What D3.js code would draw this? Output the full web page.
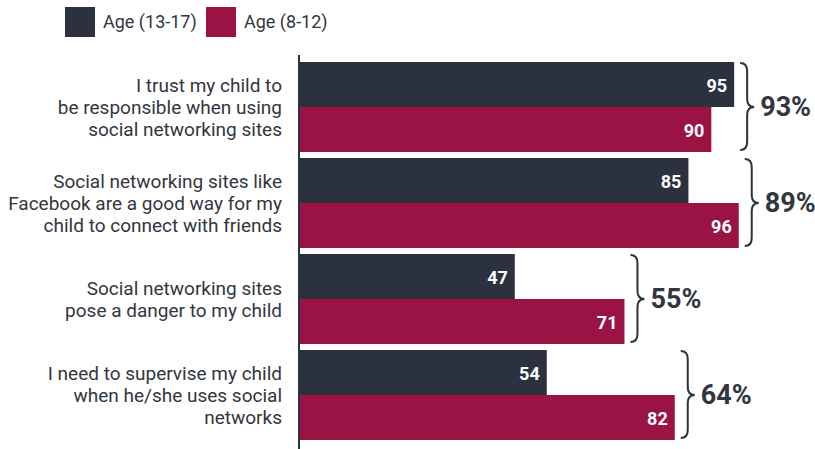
<!DOCTYPE html>
<html>
<head>
<meta charset="utf-8">
<script src="https://cdn.jsdelivr.net/npm/d3@7"></script>
<style>
  html, body { margin: 0; padding: 0; background: #ffffff; }
  svg { display: block; }
  text { font-family: Roboto, "Open Sans", sans-serif; }
</style>
</head>
<body>
<svg id="chart" width="815" height="449"></svg>
<script>
// Survey statements (each drawn on up to three lines)
const categories = [
  ["I trust my child to", "be responsible when using", "social networking sites"],
  ["Social networking sites like", "Facebook are a good way for my", "child to connect with friends"],
  ["Social networking sites", "pose a danger to my child"],
  ["I need to supervise my child", "when he/she uses social", "networks"]
];
const seriesNames = ["Age (13-17)", "Age (8-12)"];
const teens = [95, 85, 47, 54];
const kids = [90, 96, 71, 82];
const totals = ["93%", "89%", "55%", "64%"];

const colors = ["#2c3140", "#9b1244"];
const textColor = "#333640";

const svg = d3.select("#chart");
const keys = categories.map((c, i) => "c" + i);

const x = d3.scaleLinear().domain([0, 100]).range([300, 757]);
const y = d3.scaleBand().domain(keys).range([59, 443])
  .paddingInner(0.0625).paddingOuter(0.03125);
const ySub = d3.scaleBand().domain(seriesNames).range([0, y.bandwidth()]).padding(0);

const rows = keys.map((k, i) => ({ key: k, lines: categories[i], values: [teens[i], kids[i]], total: totals[i] }));

// Legend
const legend = svg.append("g").attr("class", "legend");
const legendX = [65, 206];
seriesNames.forEach((name, i) => {
  legend.append("rect").attr("x", legendX[i]).attr("y", 7).attr("width", 30).attr("height", 30).attr("fill", colors[i]);
  legend.append("text").attr("x", legendX[i] + 38).attr("y", 22).attr("dy", "0.35em")
    .attr("font-size", 18).attr("fill", textColor).text(name);
});

// Groups of bars
const groups = svg.selectAll("g.row").data(rows).join("g").attr("class", "row")
  .attr("transform", d => `translate(0,${y(d.key)})`);

groups.selectAll("rect.bar").data(d => d.values.map((v, j) => ({ v, s: seriesNames[j], j })))
  .join("rect").attr("class", "bar")
  .attr("x", x(0)).attr("y", d => ySub(d.s))
  .attr("width", d => x(d.v) - x(0)).attr("height", ySub.bandwidth())
  .attr("fill", d => colors[d.j]);

groups.selectAll("text.val").data(d => d.values.map((v, j) => ({ v, s: seriesNames[j], j })))
  .join("text").attr("class", "val")
  .attr("x", d => x(d.v) - 7).attr("y", d => ySub(d.s) + ySub.bandwidth() / 2 + 1)
  .attr("dy", "0.35em").attr("text-anchor", "end")
  .attr("font-size", 18).attr("font-weight", "bold").attr("fill", "#ffffff")
  .text(d => d.v);

// Category labels
groups.each(function (d) {
  const g = d3.select(this);
  const lh = 22;
  const mid = y.bandwidth() / 2;
  const start = mid - (d.lines.length - 1) * lh / 2;
  const t = g.append("text").attr("text-anchor", "end").attr("font-size", 19).attr("fill", textColor);
  d.lines.forEach((ln, i) => {
    t.append("tspan").attr("x", 282).attr("y", start + i * lh).attr("dy", "0.35em").text(ln);
  });
});

// Curly braces with combined totals
groups.each(function (d) {
  const g = d3.select(this);
  const x0 = x(d3.max(d.values)) + 6;
  const w = 14, r = 8;
  const y0 = 1, y1 = y.bandwidth() - 2, ym = y.bandwidth() / 2;
  const xm = x0 + w / 2;
  const p = d3.path();
  p.moveTo(x0, y0);
  p.quadraticCurveTo(xm, y0, xm, y0 + r);
  p.lineTo(xm, ym - r);
  p.quadraticCurveTo(xm, ym, x0 + w, ym);
  p.quadraticCurveTo(xm, ym, xm, ym + r);
  p.lineTo(xm, y1 - r);
  p.quadraticCurveTo(xm, y1, x0, y1);
  g.append("path").attr("d", p.toString()).attr("fill", "none")
    .attr("stroke", colors[0]).attr("stroke-width", 2);
  g.append("text").attr("x", x0 + w + 6).attr("y", ym).attr("dy", "0.35em")
    .attr("font-size", 27).attr("font-weight", "bold").attr("fill", textColor)
    .text(d.total);
});

// Vertical baseline
svg.append("line").attr("x1", x(0) - 1).attr("x2", x(0) - 1).attr("y1", 55).attr("y2", 449)
  .attr("stroke", colors[0]).attr("stroke-width", 2);
</script>
</body>
</html>
